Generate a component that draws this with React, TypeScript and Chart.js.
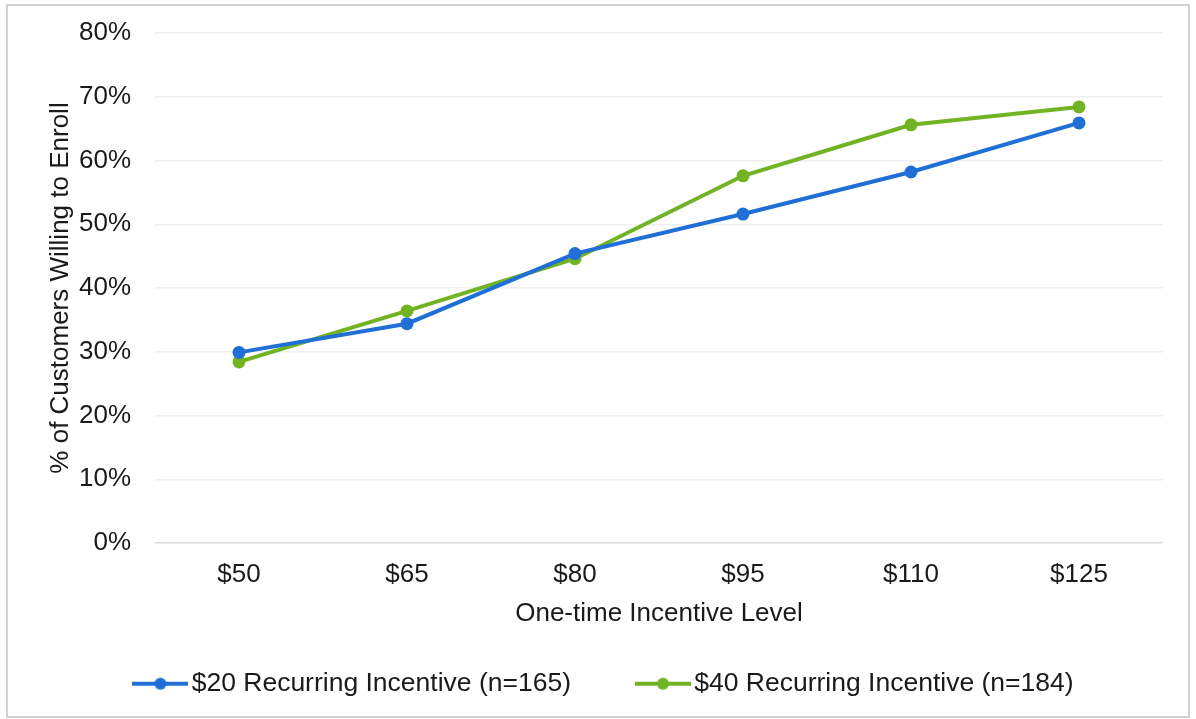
import React, { useEffect, useRef } from "react";
import { Chart, registerables } from "chart.js";

Chart.register(...registerables);

const categories = ["$50", "$65", "$80", "$95", "$110", "$125"];
const recurring20 = [29.9, 34.4, 45.4, 51.6, 58.2, 65.9];
const recurring40 = [28.4, 36.4, 44.6, 57.6, 65.6, 68.4];
const seriesLabels = [
  "$20 Recurring Incentive (n=165)",
  "$40 Recurring Incentive (n=184)",
];
const seriesColors = ["#1f6fd6", "#72b324"];
const yMin = 0;
const yMax = 80;
const yStep = 10;
const xTitle = "One-time Incentive Level";
const yTitle = "% of Customers Willing to Enroll";

const FONT = "'Liberation Sans', Arial, sans-serif";
const TEXT = "#1a1a1a";

function makeMarker(color: string): HTMLCanvasElement {
  const c = document.createElement("canvas");
  c.width = 56;
  c.height = 14;
  const ctx = c.getContext("2d")!;
  ctx.strokeStyle = color;
  ctx.lineWidth = 4;
  ctx.beginPath();
  ctx.moveTo(0, 7);
  ctx.lineTo(56, 7);
  ctx.stroke();
  ctx.fillStyle = color;
  ctx.beginPath();
  ctx.arc(28, 7, 6, 0, Math.PI * 2);
  ctx.fill();
  return c;
}

export default function App() {
  const ref = useRef<HTMLCanvasElement | null>(null);

  useEffect(() => {
    if (!ref.current) return;
    const markers = seriesColors.map(makeMarker);
    const chart = new Chart(ref.current, {
      type: "line",
      data: {
        labels: categories,
        datasets: [recurring20, recurring40].map((d, i) => ({
          label: seriesLabels[i],
          data: d,
          borderColor: seriesColors[i],
          backgroundColor: seriesColors[i],
          borderWidth: 4,
          pointRadius: 6.5,
          pointBorderWidth: 0,
          pointBackgroundColor: seriesColors[i],
          tension: 0,
          fill: false,
        })),
      },
      options: {
        responsive: false,
        animation: false,
        devicePixelRatio: 1,
        layout: { padding: { left: 53, right: 33, top: 33, bottom: 12 } },
        plugins: {
          tooltip: { enabled: false },
          legend: {
            position: "bottom",
            labels: {
              usePointStyle: true,
              pointStyleWidth: 36,
              padding: 74,
              color: TEXT,
              font: { family: FONT, size: 26.5 },
              generateLabels: (ch: any) => {
                const base = Chart.defaults.plugins.legend.labels.generateLabels(ch);
                return base.map((item: any, i: number) => ({
                  ...item,
                  pointStyle: markers[i],
                }));
              },
            },
          },
        },
        scales: {
          x: {
            offset: true,
            grid: { display: false, drawTicks: false },
            border: { display: false },
            ticks: {
              color: TEXT,
              padding: 16,
              font: { family: FONT, size: 26 },
              maxRotation: 0,
            },
            title: {
              display: true,
              text: xTitle,
              color: TEXT,
              font: { family: FONT, size: 26 },
              padding: { top: 0, bottom: -32.6 },
            },
            afterFit: (s: any) => {
              s.height = 53.5;
            },
          },
          y: {
            min: yMin,
            max: yMax,
            grid: {
              drawTicks: false,
              lineWidth: 1.5,
              color: (ctx: any) =>
                ctx.tick && ctx.tick.value === 0 ? "#d9d9d9" : "#efefef",
            },
            border: { display: false },
            ticks: {
              stepSize: yStep,
              color: TEXT,
              padding: 24,
              font: { family: FONT, size: 26 },
              callback: (v: any) => `${v}%`,
            },
            title: {
              display: true,
              text: yTitle,
              color: TEXT,
              font: { family: FONT, size: 26 },
              padding: { top: -8, bottom: 4 },
            },
            afterFit: (s: any) => {
              s.width = 102;
              s.paddingTop = 10;
              s.paddingBottom = 10;
            },
          },
        },
      },
    });
    return () => chart.destroy();
  }, []);

  return (
    <div
      style={{
        position: "absolute",
        left: 0,
        top: 0,
        width: 1196,
        height: 719,
        background: "#ffffff",
        overflow: "hidden",
      }}
    >
      <canvas
        ref={ref}
        width={1196}
        height={719}
        style={{ position: "absolute", left: 0, top: 0, width: 1196, height: 719 }}
      />
      <div
        style={{
          position: "absolute",
          left: 6,
          top: 4,
          width: 1184,
          height: 714,
          border: "2px solid #d2d2d2",
          boxSizing: "border-box",
          pointerEvents: "none",
        }}
      />
    </div>
  );
}
